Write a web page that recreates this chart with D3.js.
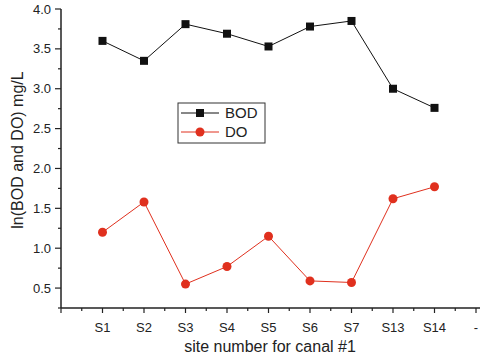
<!DOCTYPE html>
<html>
<head>
<meta charset="utf-8">
<script src="https://cdn.jsdelivr.net/npm/d3@7"></script>
<style>
  body { margin: 0; background: #fff; }
  text { font-family: "Liberation Sans", Arial, sans-serif; fill: #222; }
</style>
</head>
<body>
<div id="chart"></div>
<script>
// category slots on the x axis (first slot blank, last one "-")
const slots = ["", "S1", "S2", "S3", "S4", "S5", "S6", "S7", "S13", "S14", "-"];
const sites = ["S1", "S2", "S3", "S4", "S5", "S6", "S7", "S13", "S14"];
const bod = [3.60, 3.35, 3.81, 3.69, 3.53, 3.78, 3.85, 3.00, 2.76];
const dox = [1.20, 1.58, 0.55, 0.77, 1.15, 0.59, 0.57, 1.62, 1.77];
const yTicks = [0.5, 1.0, 1.5, 2.0, 2.5, 3.0, 3.5, 4.0];

const width = 480, height = 357;
const svg = d3.select("#chart").append("svg")
  .attr("width", width)
  .attr("height", height);

const x = d3.scaleLinear().domain([0, 10]).range([61, 476]);
const y = d3.scaleLinear().domain([0.25, 4.0]).range([308, 9]);
const xi = d => x(slots.indexOf(d));

// y axis
let yAxis = svg.append("g").attr("transform", "translate(61,0)");
yAxis.append("line").attr("x1", 0).attr("x2", 0)
  .attr("y1", y(4.0)).attr("y2", y(0.25))
  .attr("stroke", "#222").attr("stroke-width", 1.5);
d3.range(0.25, 4.01, 0.25).forEach(v => {
  let major = yTicks.some(t => Math.abs(t - v) < 1e-6);
  yAxis.append("line")
    .attr("x1", major ? -6 : -3).attr("x2", 0)
    .attr("y1", y(v)).attr("y2", y(v))
    .attr("stroke", "#222").attr("stroke-width", 1.2);
});
yTicks.forEach(v => {
  yAxis.append("text")
    .attr("x", -10).attr("y", y(v))
    .attr("dy", "0.35em")
    .attr("text-anchor", "end")
    .attr("font-size", 13)
    .text(v.toFixed(1));
});

// x axis
let xAxis = svg.append("g").attr("transform", "translate(0,308)");
xAxis.append("line").attr("x1", x(0)).attr("x2", width)
  .attr("y1", 0).attr("y2", 0)
  .attr("stroke", "#222").attr("stroke-width", 1.5);
d3.range(0, 10.51, 0.5).forEach(v => {
  let major = Math.abs(v - Math.round(v)) < 1e-6;
  xAxis.append("line")
    .attr("x1", x(v)).attr("x2", x(v))
    .attr("y1", 0).attr("y2", major ? 5 : 3)
    .attr("stroke", "#222").attr("stroke-width", 1.2);
});
slots.forEach((s, i) => {
  if (s === "") return;
  xAxis.append("text")
    .attr("x", x(i)).attr("y", 24)
    .attr("text-anchor", "middle")
    .attr("font-size", 13)
    .text(s);
});

// axis titles
svg.append("text")
  .attr("x", 270).attr("y", 352)
  .attr("text-anchor", "middle")
  .attr("font-size", 16)
  .text("site number for canal #1");
svg.append("text")
  .attr("transform", "translate(23,150) rotate(-90)")
  .attr("text-anchor", "middle")
  .attr("font-size", 16)
  .text("ln(BOD and DO) mg/L");

// series
const black = "#111", red = "#e0301e";
const line = vals => d3.line()
  .x((d, i) => xi(sites[i]))
  .y(d => y(d))(vals);

svg.append("path").attr("d", line(bod))
  .attr("fill", "none").attr("stroke", black).attr("stroke-width", 1);
svg.append("path").attr("d", line(dox))
  .attr("fill", "none").attr("stroke", red).attr("stroke-width", 1);

svg.append("g").selectAll("rect").data(bod).join("rect")
  .attr("x", (d, i) => xi(sites[i]) - 4)
  .attr("y", d => y(d) - 4)
  .attr("width", 8).attr("height", 8)
  .attr("fill", black);
svg.append("g").selectAll("circle").data(dox).join("circle")
  .attr("cx", (d, i) => xi(sites[i]))
  .attr("cy", d => y(d))
  .attr("r", 4.5)
  .attr("fill", red);

// legend
let legend = svg.append("g");
legend.append("rect")
  .attr("x", 178).attr("y", 103)
  .attr("width", 87).attr("height", 40)
  .attr("fill", "#fff").attr("stroke", "#333").attr("stroke-width", 1);
legend.append("line").attr("x1", 181).attr("x2", 219)
  .attr("y1", 113).attr("y2", 113).attr("stroke", black);
legend.append("rect").attr("x", 196).attr("y", 109)
  .attr("width", 8).attr("height", 8).attr("fill", black);
legend.append("text").attr("x", 225).attr("y", 113).attr("dy", "0.35em")
  .attr("font-size", 15).text("BOD");
legend.append("line").attr("x1", 181).attr("x2", 219)
  .attr("y1", 132).attr("y2", 132).attr("stroke", red);
legend.append("circle").attr("cx", 200).attr("cy", 132)
  .attr("r", 4.5).attr("fill", red);
legend.append("text").attr("x", 225).attr("y", 132).attr("dy", "0.35em")
  .attr("font-size", 15).text("DO");
</script>
</body>
</html>
